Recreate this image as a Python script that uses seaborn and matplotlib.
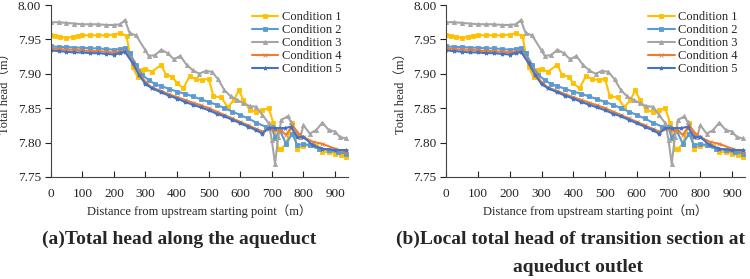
import numpy as np
import pandas as pd
import matplotlib
matplotlib.use("Agg")
import matplotlib.pyplot as plt
import seaborn as sns

# ──────────────────────────────────────────
# DATA
# ──────────────────────────────────────────
x1 = [0, 15, 30, 50, 70, 85, 100, 125, 150, 175, 200, 220, 240, 250, 260, 275, 290, 300,
      320, 350, 365, 385, 400, 420, 440, 460, 480, 500, 515, 540, 560, 580, 595, 610, 630,
      650, 670, 690, 705, 720, 730, 745, 765, 780, 800, 820, 840, 860, 880, 900, 920, 935]
y1 = [7.957, 7.955, 7.954, 7.952, 7.954, 7.955, 7.956, 7.956, 7.956, 7.956, 7.957, 7.959,
      7.955, 7.930, 7.910, 7.895, 7.905, 7.907, 7.903, 7.913, 7.898, 7.896, 7.886, 7.879,
      7.897, 7.892, 7.891, 7.893, 7.867, 7.866, 7.851, 7.862, 7.876, 7.862, 7.847, 7.845,
      7.847, 7.850, 7.828, 7.791, 7.791, 7.798, 7.828, 7.791, 7.795, 7.796, 7.795, 7.786,
      7.786, 7.784, 7.782, 7.779]

x2 = [0, 25, 50, 75, 100, 125, 150, 175, 200, 220, 235, 250, 270, 290, 310, 330, 350, 375,
      400, 425, 450, 475, 500, 525, 550, 575, 600, 625, 650, 680, 700, 710, 725, 745, 765,
      780, 800, 820, 850, 880, 910, 935]
y2 = [7.940, 7.939, 7.939, 7.938, 7.938, 7.937, 7.937, 7.936, 7.935, 7.936, 7.938, 7.930,
      7.913, 7.898, 7.891, 7.885, 7.882, 7.878, 7.874, 7.871, 7.867, 7.863, 7.859, 7.855,
      7.850, 7.845, 7.840, 7.835, 7.829, 7.823, 7.822, 7.806, 7.818, 7.798, 7.813, 7.796,
      7.798, 7.796, 7.791, 7.789, 7.786, 7.784]

x3 = [0, 25, 50, 75, 100, 125, 150, 175, 200, 220, 235, 250, 270, 300, 310, 330, 350, 370,
      390, 410, 430, 450, 470, 490, 510, 530, 550, 570, 590, 610, 630, 650, 670, 690, 700,
      710, 720, 730, 750, 760, 775, 790, 800, 820, 840, 860, 880, 900, 915, 935]
y3 = [7.975, 7.975, 7.974, 7.973, 7.972, 7.972, 7.972, 7.971, 7.971, 7.972, 7.978, 7.959,
      7.956, 7.934, 7.926, 7.927, 7.935, 7.930, 7.921, 7.926, 7.913, 7.905, 7.900, 7.904,
      7.903, 7.892, 7.876, 7.867, 7.862, 7.857, 7.853, 7.852, 7.840, 7.828, 7.803, 7.769,
      7.808, 7.833, 7.838, 7.830, 7.816, 7.808, 7.825, 7.813, 7.818, 7.829, 7.818, 7.816,
      7.808, 7.806]

x4 = [0, 25, 50, 75, 100, 125, 150, 175, 200, 220, 235, 260, 280, 300, 320, 350, 375, 400,
      425, 450, 475, 500, 525, 550, 575, 600, 625, 650, 670, 690, 710, 730, 745, 765, 785,
      800, 830, 860, 900, 935]
y4 = [7.937, 7.936, 7.935, 7.935, 7.934, 7.933, 7.933, 7.932, 7.931, 7.932, 7.933, 7.917,
      7.900, 7.888, 7.880, 7.875, 7.870, 7.866, 7.862, 7.858, 7.854, 7.850, 7.845, 7.840,
      7.835, 7.830, 7.825, 7.820, 7.816, 7.820, 7.818, 7.817, 7.811, 7.825, 7.813, 7.808,
      7.801, 7.798, 7.791, 7.786]

x5 = [0, 25, 50, 75, 100, 125, 150, 175, 200, 220, 235, 260, 280, 300, 320, 350, 375, 400,
      425, 450, 475, 500, 525, 550, 575, 600, 625, 650, 670, 690, 710, 740, 760, 780, 800,
      830, 860, 900, 935]
y5 = [7.934, 7.933, 7.932, 7.931, 7.931, 7.930, 7.930, 7.929, 7.928, 7.930, 7.932, 7.915,
      7.898, 7.885, 7.879, 7.873, 7.868, 7.864, 7.859, 7.855, 7.851, 7.847, 7.842, 7.838,
      7.833, 7.828, 7.823, 7.818, 7.813, 7.821, 7.821, 7.821, 7.823, 7.808, 7.808, 7.796,
      7.791, 7.789, 7.789]

labels = ["Condition 1", "Condition 2", "Condition 3", "Condition 4", "Condition 5"]
series = [(x1, y1), (x2, y2), (x3, y3), (x4, y4), (x5, y5)]
colors = ["#FFC000", "#5B9BD5", "#A5A5A5", "#ED7D31", "#4472C4"]
markers = ["s", "s", "^", "x", "*"]
yticks = [7.75, 7.80, 7.85, 7.90, 7.95, 8.00]
xticks = [0, 100, 200, 300, 400, 500, 600, 700, 800, 900]

# ──────────────────────────────────────────
# PLOT
# ──────────────────────────────────────────
sns.set_style("ticks")
plt.rcParams["font.family"] = ["Liberation Serif", "Noto Sans CJK SC"]

fig = plt.figure(figsize=(7.5, 2.79), dpi=100)
ax_a = fig.add_axes([0.0676, 0.366, 0.396, 0.616])
ax_b = fig.add_axes([0.595, 0.366, 0.398, 0.616])

for ax in [ax_a, ax_b]:
    for (xs, ys), lab, c, m in zip(series, labels, colors, markers):
        sns.lineplot(x=xs, y=ys, ax=ax, color=c, marker=m, markersize=3,
                     markeredgewidth=0.6, markeredgecolor=c, linewidth=1.5, label=lab)
    ax.set_xlim(0, 940)
    ax.set_ylim(7.75, 8.00)
    ax.set_xticks(xticks)
    ax.set_yticks(yticks)
    ax.yaxis.set_major_formatter(matplotlib.ticker.FormatStrFormatter("%.2f"))
    ax.tick_params(axis="x", direction="in", length=4, pad=8, labelsize=9.5, colors="#222222")
    ax.tick_params(axis="y", direction="out", length=4, pad=3, labelsize=9.5, colors="#222222")
    sns.despine(ax=ax)
    for s in ["left", "bottom"]:
        ax.spines[s].set_color("#444444")
        ax.spines[s].set_linewidth(0.8)
    ax.set_ylabel("Total head（m）", fontsize=9, labelpad=5)
    ax.set_xlabel("Distance from upstream starting point（m）", fontsize=9, labelpad=3)
    ax.legend(loc="upper left", bbox_to_anchor=(0.66, 0.995), frameon=False, fontsize=9,
              handlelength=2.1, labelspacing=0.08, borderaxespad=0.0, handletextpad=0.3)

fig.text(0.239, 0.143, "(a)Total head along the aqueduct", ha="center", va="center",
         fontsize=14, fontweight="bold")
fig.text(0.761, 0.143, "(b)Local total head of transition section at", ha="center",
         va="center", fontsize=14, fontweight="bold")
fig.text(0.771, 0.040, "aqueduct outlet", ha="center", va="center",
         fontsize=14, fontweight="bold")

plt.savefig("out.png", dpi=100)
